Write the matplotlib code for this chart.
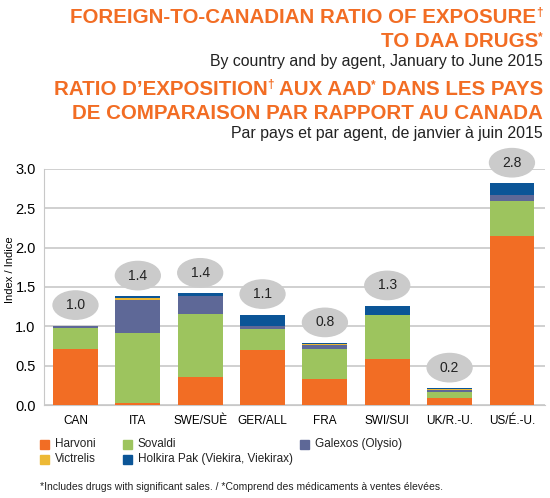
import matplotlib
matplotlib.use("Agg")
import matplotlib.pyplot as plt
from matplotlib.patches import Ellipse, Rectangle
import numpy as np

plt.rcParams['font.family'] = ['Liberation Sans', 'DejaVu Sans']

countries = ['CAN', 'ITA', 'SWE/SUÈ', 'GER/ALL', 'FRA', 'SWI/SUI', 'UK/R.-U.', 'US/É.-U.']
harvoni   = [0.71, 0.03, 0.35, 0.70, 0.335, 0.585, 0.09, 2.15]
sovaldi   = [0.27, 0.885, 0.81, 0.27, 0.375, 0.56, 0.07, 0.44]
galexos   = [0.03, 0.42, 0.22, 0.04, 0.05, 0.0, 0.03, 0.08]
victrelis = [0.0, 0.03, 0.0, 0.0, 0.01, 0.0, 0.01, 0.0]
holkira   = [0.0, 0.02, 0.04, 0.14, 0.02, 0.115, 0.015, 0.15]
ratios = ['1.0', '1.4', '1.4', '1.1', '0.8', '1.3', '0.2', '2.8']

series = [
    ('Harvoni', harvoni, '#F26D24'),
    ('Sovaldi', sovaldi, '#9DC45E'),
    ('Galexos (Olysio)', galexos, '#5E6897'),
    ('Victrelis', victrelis, '#EDB935'),
    ('Holkira Pak (Viekira, Viekirax)', holkira, '#0B5597'),
]

orange = '#F26D24'
W, H = 550, 498
fig = plt.figure(figsize=(W / 100, H / 100), dpi=100)
ax = fig.add_axes([44 / W, 1 - 405 / H, 501 / W, 236 / H])

x = np.arange(len(countries))
bottom = np.zeros(len(countries))
for name, vals, col in series:
    ax.bar(x, vals, 0.72, bottom=bottom, color=col, zorder=3)
    bottom += np.array(vals)

# grey ovals with the total ratio
for i, tot in enumerate(bottom):
    e = Ellipse((x[i], tot + 0.26), 0.72, 0.36, color='#CBCBCB', zorder=4, clip_on=False)
    ax.add_patch(e)
    ax.text(x[i], tot + 0.26, ratios[i], ha='center', va='center', fontsize=10,
            color='#222222', zorder=5)

ax.set_xlim(-0.505, 7.53)
ax.set_ylim(0, 3.0)
ax.set_yticks(np.arange(0, 3.01, 0.5))
ax.set_yticklabels([f'{v:.1f}' for v in np.arange(0, 3.01, 0.5)], fontsize=10.5)
ax.set_xticks(x)
ax.set_xticklabels(countries, fontsize=8.5)
ax.tick_params(length=0, pad=6)
ax.tick_params(axis='x', pad=7)
ax.grid(axis='y', color='#C8C8C8', lw=1.2, zorder=0)
for s in ['top', 'right']:
    ax.spines[s].set_visible(False)
ax.spines['left'].set_color('#C8C8C8')
ax.spines['bottom'].set_color('#C8C8C8')

fig.text(10 / W, 1 - 270 / H, 'Index / Indice', rotation=90, ha='center', va='center',
         fontsize=8)

# titles, built from runs so the daggers and asterisks sit raised
renderer = fig.canvas.get_renderer()

def runs_right(runs, xr, y, color, weight):
    objs = []
    for txt, size, dy in runs:
        t = fig.text(0, 0, txt, fontsize=size, color=color, weight=weight, va='baseline')
        objs.append((t, dy))
    widths = [t.get_window_extent(renderer).width for t, _ in objs]
    xs = xr - sum(widths)
    for (t, dy), w in zip(objs, widths):
        t.set_position((xs / W, 1 - (y - dy) / H))
        xs += w

big, sup = 14.8, 8.5
runs_right([('FOREIGN-TO-CANADIAN RATIO OF EXPOSURE', big, 0), ('†', sup, 7)], 543, 23, orange, 'bold')
runs_right([('TO DAA DRUGS', big, 0), ('*', sup, 7)], 543, 47, orange, 'bold')
fig.text(543 / W, 1 - 66 / H, 'By country and by agent, January to June 2015', ha='right',
         va='baseline', fontsize=11.4, color='#222222')
runs_right([('RATIO D’EXPOSITION', big, 0), ('†', sup, 7), (' AUX AAD', big, 0), ('*', sup, 7),
            (' DANS LES PAYS', big, 0)], 543, 95, orange, 'bold')
runs_right([('DE COMPARAISON PAR RAPPORT AU CANADA', big, 0)], 543, 119, orange, 'bold')
fig.text(543 / W, 1 - 138 / H, 'Par pays et par agent, de janvier à juin 2015', ha='right',
         va='baseline', fontsize=11.4, color='#222222')

# legend
leg_pos = [(40, 444), (123, 444), (300, 444), (40, 459), (123, 459)]
for (lx, ly), (name, _, col) in zip(leg_pos, series):
    fig.patches.append(Rectangle((lx / W, 1 - (ly + 4.5) / H), 9 / W, 9 / H, color=col,
                                 transform=fig.transFigure, figure=fig))
    fig.text((lx + 15) / W, 1 - ly / H, name, ha='left', va='center', fontsize=8.5,
             color='#222222')

fig.text(40 / W, 1 - 487 / H,
         '*Includes drugs with significant sales. / *Comprend des médicaments à ventes élevées.',
         ha='left', va='center', fontsize=7.5, color='#222222')

fig.savefig('out.png', dpi=100)
